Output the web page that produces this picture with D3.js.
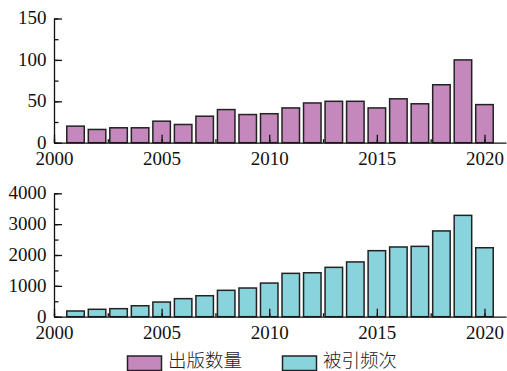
<!DOCTYPE html>
<html>
<head>
<meta charset="utf-8">
<script src="https://cdn.jsdelivr.net/npm/d3@7"></script>
<style>
  html, body { margin: 0; padding: 0; background: #fff; }
  svg { display: block; }
  .axis text { font-family: "Liberation Serif", "Times New Roman", serif; font-size: 19px; fill: #111; }
  .axis path, .axis line { stroke: #111; stroke-width: 1.3; }
  .legend text { font-family: "Noto Sans CJK SC", sans-serif; font-size: 18.5px; fill: #222; font-weight: 300; }
</style>
</head>
<body>
<svg id="chart" width="507" height="371"></svg>
<script>
// Yearly counts
const years = [2001, 2002, 2003, 2004, 2005, 2006, 2007, 2008, 2009, 2010,
               2011, 2012, 2013, 2014, 2015, 2016, 2017, 2018, 2019, 2020];
const publications = [20, 16, 18, 18, 26, 22, 32, 40, 34, 35,
                      42, 48, 50, 50, 42, 53, 47, 70, 100, 46];
const citations = [185, 240, 260, 355, 475, 585, 680, 855, 930, 1090,
                   1405, 1425, 1600, 1775, 2140, 2260, 2280, 2780, 3285, 2235];

const xTicks = [2000, 2005, 2010, 2015, 2020];
const pubTicks = [0, 50, 100, 150];
const citeTicks = [0, 1000, 2000, 3000, 4000];
const seriesNames = ["出版数量", "被引频次"];
const seriesColors = ["#c488bd", "#89d3dc"];

const svg = d3.select("#chart");

const x = d3.scaleLinear().domain([2000, 2021]).range([54, 506]);
const barW = 17.5;

function panel(values, yMax, yTicks, minorStep, top, bottom, color) {
  const y = d3.scaleLinear().domain([0, yMax]).range([bottom, top]);
  const g = svg.append("g");

  // bars
  g.append("g").selectAll("rect")
    .data(values)
    .join("rect")
    .attr("x", (d, i) => x(years[i]) - barW / 2)
    .attr("y", d => y(d))
    .attr("width", barW)
    .attr("height", d => y(0) - y(d))
    .attr("fill", color)
    .attr("stroke", "#222")
    .attr("stroke-width", 1.5);

  // minor y ticks
  g.append("g")
    .attr("class", "axis")
    .attr("transform", `translate(${x(2000)},0)`)
    .call(d3.axisLeft(y).tickValues(d3.range(0, yMax + 1e-9, minorStep)).tickSize(-4.5).tickSizeOuter(0).tickFormat(""))
    .call(s => s.select(".domain").remove());

  // major y axis
  g.append("g")
    .attr("class", "axis")
    .attr("transform", `translate(${x(2000)},0)`)
    .call(d3.axisLeft(y).tickValues(yTicks).tickSize(-8).tickSizeOuter(0).tickPadding(7.5).tickFormat(d3.format("d")))
    .call(s => s.selectAll("text").attr("dy", "0.28em"));

  // minor x ticks
  g.append("g")
    .attr("class", "axis")
    .attr("transform", `translate(0,${bottom})`)
    .call(d3.axisBottom(x).tickValues(d3.range(2000, 2021, 2.5)).tickSize(-3.5).tickSizeOuter(0).tickFormat(""))
    .call(s => s.select(".domain").remove());

  // major x axis
  g.append("g")
    .attr("class", "axis")
    .attr("transform", `translate(0,${bottom})`)
    .call(d3.axisBottom(x).tickValues(xTicks).tickSize(-8).tickSizeOuter(0).tickFormat(d3.format("d")))
    .call(s => s.selectAll("text").attr("y", 22.5).attr("dy", 0));
}

panel(publications, 150, pubTicks, 25, 18.5, 142.7, seriesColors[0]);
panel(citations, 4000, citeTicks, 500, 193.3, 316.7, seriesColors[1]);

// legend
const legend = svg.append("g").attr("class", "legend");
const legendX = [127.5, 282.5];
seriesNames.forEach((name, i) => {
  legend.append("rect")
    .attr("x", legendX[i]).attr("y", 356)
    .attr("width", 34).attr("height", 14.5)
    .attr("fill", seriesColors[i])
    .attr("stroke", "#222").attr("stroke-width", 1.5);
  legend.append("text")
    .attr("x", legendX[i] + 40.5).attr("y", 366.5)
    .text(name);
});
</script>
</body>
</html>
